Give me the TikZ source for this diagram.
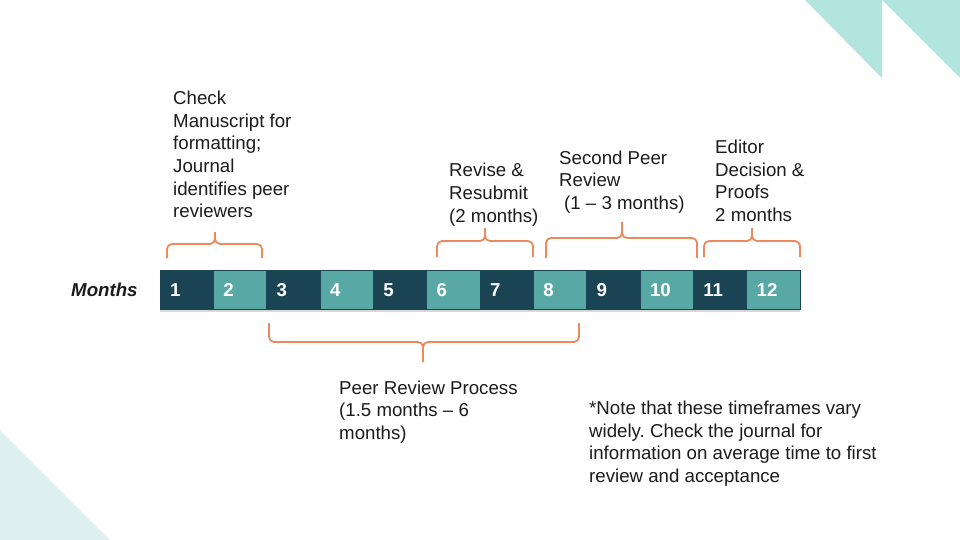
\documentclass[tikz,border=0pt]{standalone}
\usepackage{fontspec}
\setmainfont{Liberation Sans}
\frenchspacing
\usetikzlibrary{shadows}
\definecolor{darkcell}{HTML}{1A4354}
\definecolor{tealcell}{HTML}{58A9A6}
\definecolor{bracecol}{HTML}{EC8A5E}
\definecolor{tritop}{HTML}{B3E5DF}
\definecolor{tribot}{HTML}{DDF0EF}
\definecolor{textcol}{HTML}{1C1C1C}
\tikzset{
  cell/.style={minimum width=53.33pt, minimum height=39pt, inner xsep=10pt, inner ysep=0pt,
    text width=33.33pt, text height=13pt, text depth=0pt, align=left, text=white,
    draw=darkcell, line width=.4pt,
    font=\fontsize{18.67}{22.5}\selectfont\bfseries,
    drop shadow={shadow xshift=0pt, shadow yshift=-2.5pt, opacity=.3}},
  dk/.style={cell, fill=darkcell},
  tl/.style={cell, fill=tealcell},
  % base of a multi-line node is its last line
  lbl/.style={anchor=base west, align=left, inner sep=0pt, text=textcol,
    font=\fontsize{18.67}{22.5}\selectfont},
  bracepath/.style={draw=bracecol, line width=1.8pt, rounded corners=5pt}
}
\begin{document}
\begin{tikzpicture}[x=1pt, y=-1pt]
   \useasboundingbox (0,0) rectangle (960,540);
   \fill[white] (0,0) rectangle (960,540);
   % corner triangles
   \fill[tritop] (805,0) -- (882,0) -- (882,78) -- cycle;
   \fill[tritop] (882,0) -- (960,0) -- (960,78) -- cycle;
   \fill[tribot] (0,430) -- (110,540) -- (0,540) -- cycle;
   % month bar
   \foreach \i/\st in {1/dk,2/tl,3/dk,4/tl,5/dk,6/tl,7/dk,8/tl,9/dk,10/tl,11/dk,12/tl}
      \node[\st] (c\i) at ({160+(\i-0.5)*53.333}, 289.5) {\i};
   \node[lbl, font=\fontsize{18.67}{22.5}\selectfont\bfseries\itshape] (months) at (71,296) {Months};
   % labels
   \node[lbl] (check) at (173,217.5) {Check\\Manuscript for\\formatting;\\Journal\\identifies peer\\reviewers};
   \node[lbl] (revise) at (449,222) {Revise \&\\Resubmit\\(2 months)};
   \node[lbl] (second) at (559,209) {Second Peer\\Review\\\hspace*{5pt}(1 -- 3 months)};
   \node[lbl] (editor) at (715,221) {Editor\\Decision \&\\Proofs\\2 months};
   \node[lbl] (process) at (339,439) {Peer Review Process\\(1.5 months -- 6\\months)};
   \node[lbl] (note) at (589,482) {*Note that these timeframes vary\\widely. Check the journal for\\information on average time to first\\review and acceptance};
   % braces
   \foreach \xa/\xb/\xm/\ye/\yb/\yt in {167/262/215/258/244/232, 437/533/485/257/241/228,
                                         546/697/622/258/238/222, 704/800/752/257/241/228,
                                         269/579/423/323/342/362}{
      \draw[bracepath] (\xa,\ye) -- (\xa,\yb) -- (\xm,\yb) -- (\xm,\yt);
      \draw[bracepath] (\xb,\ye) -- (\xb,\yb) -- (\xm,\yb) -- (\xm,\yt);
   }
\end{tikzpicture}
\end{document}
